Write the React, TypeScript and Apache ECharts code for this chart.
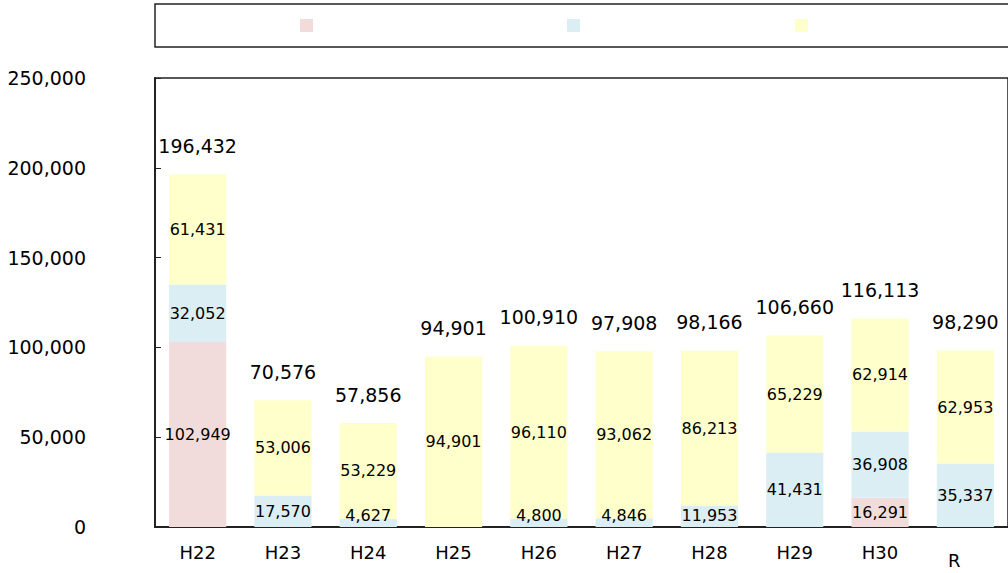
import React, { useEffect, useRef } from "react";
import * as echarts from "echarts";

const categories = ["H22", "H23", "H24", "H25", "H26", "H27", "H28", "H29", "H30", "R"];
const pinkValues = [102949, 0, 0, 0, 0, 0, 0, 0, 16291, 0];
const blueValues = [32052, 17570, 4627, 0, 4800, 4846, 11953, 41431, 36908, 35337];
const yellowValues = [61431, 53006, 53229, 94901, 96110, 93062, 86213, 65229, 62914, 62953];
const totals = [196432, 70576, 57856, 94901, 100910, 97908, 98166, 106660, 116113, 98290];
const seriesNames = ["A", "B", "C"];
const yTicks = { min: 0, max: 250000, interval: 50000 };

const COLORS = ["#f2dcdb", "#dbeef4", "#ffffcc"];
const FONT = "DejaVu Sans";

const fmt = (v: number) => v.toLocaleString("en-US");

export default function App() {
  const ref = useRef<HTMLDivElement>(null);
  useEffect(() => {
    if (!ref.current) return;
    const chart = echarts.init(ref.current, null, { renderer: "svg" });
    const inside = {
      show: true,
      position: "inside" as const,
      color: "#000",
      fontFamily: FONT,
      fontSize: 16,
      formatter: (p: any) => (p.value ? fmt(p.value) : ""),
    };
    const toData = (arr: number[]) =>
      arr.map((v) =>
        v > 0 && v < 15000
          ? { value: v, label: { position: "insideBottom", distance: 4 } }
          : v
      );
    const legendBase = {
      top: 14,
      itemWidth: 13,
      itemHeight: 13,
      icon: "rect",
      formatter: () => "",
      textStyle: { fontFamily: FONT, fontSize: 14 },
    };
    chart.setOption({
      animation: false,
      textStyle: { fontFamily: FONT },
      legend: [
        { ...legendBase, left: 295, data: [seriesNames[0]] },
        { ...legendBase, left: 562, data: [seriesNames[1]] },
        { ...legendBase, left: 790, data: [seriesNames[2]] },
      ],
      graphic: [
        {
          type: "rect",
          shape: { x: 155, y: 4, width: 880, height: 43 },
          style: { fill: "none", stroke: "#222", lineWidth: 1.5 },
        },
      ],
      grid: {
        left: 155,
        top: 78,
        right: -3,
        bottom: 46,
        show: true,
        borderColor: "#222",
        borderWidth: 1.5,
        backgroundColor: "transparent",
      },
      xAxis: {
        type: "category",
        data: categories,
        axisLine: { show: true, lineStyle: { color: "#222", width: 2 } },
        axisTick: { show: false },
        axisLabel: {
          color: "#000",
          fontFamily: FONT,
          fontSize: 18,
          margin: 16,
          formatter: (v: string) => (v === "R" ? "{r|R}" : v),
          rich: {
            r: { fontFamily: FONT, fontSize: 18, color: "#000", padding: [8, 22, 0, 0] },
          },
        },
      },
      yAxis: {
        type: "value",
        min: yTicks.min,
        max: yTicks.max,
        interval: yTicks.interval,
        splitLine: { show: false },
        axisLine: { show: true, lineStyle: { color: "#222", width: 2 } },
        axisTick: { show: true, inside: true, length: 6, lineStyle: { color: "#222" } },
        axisLabel: {
          color: "#000",
          fontFamily: FONT,
          fontSize: 19,
          margin: 69,
          formatter: (v: number) => fmt(v),
        },
      },
      series: [
        {
          name: seriesNames[0],
          type: "bar",
          stack: "s",
          data: toData(pinkValues),
          barWidth: "67%",
          itemStyle: { color: COLORS[0] },
          label: inside,
        },
        {
          name: seriesNames[1],
          type: "bar",
          stack: "s",
          data: toData(blueValues),
          itemStyle: { color: COLORS[1] },
          label: inside,
        },
        {
          name: seriesNames[2],
          type: "bar",
          stack: "s",
          data: toData(yellowValues),
          itemStyle: { color: COLORS[2] },
          label: inside,
        },
        {
          name: "total",
          type: "bar",
          stack: "s",
          data: totals.map(() => 0),
          itemStyle: { color: "transparent" },
          label: {
            show: true,
            position: "top",
            distance: 19,
            color: "#000",
            fontFamily: FONT,
            fontSize: 19,
            formatter: (p: any) => fmt(totals[p.dataIndex]),
          },
        },
      ],
    });
    return () => chart.dispose();
  }, []);
  return <div ref={ref} style={{ width: 1008, height: 573, position: "absolute", left: 0, top: 0 }} />;
}
